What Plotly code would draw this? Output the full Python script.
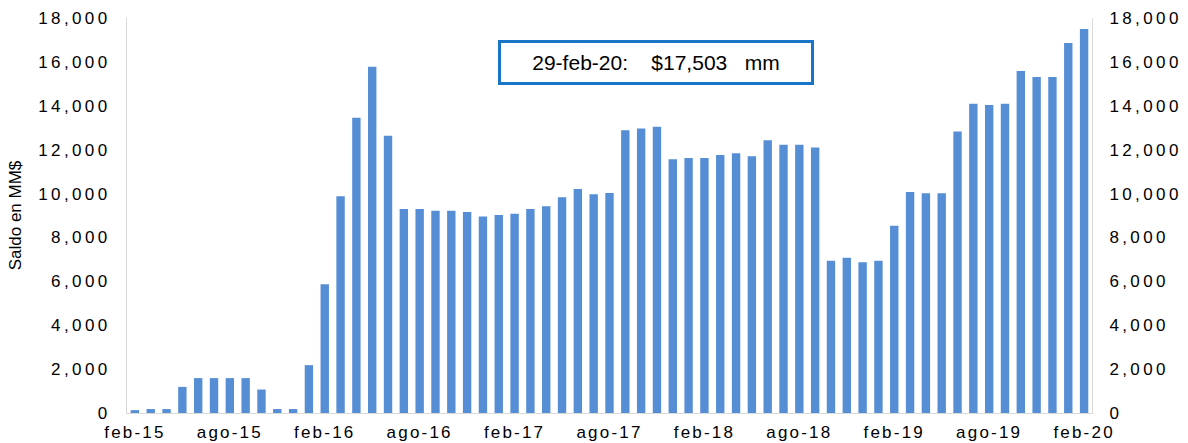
import plotly.graph_objects as go

MESES = ["ene", "feb", "mar", "abr", "may", "jun", "jul", "ago", "sep", "oct", "nov", "dic"]

# Monthly categories feb-15 .. feb-20
months = []
for yy in range(15, 21):
    for mi, m in enumerate(MESES):
        if (yy == 15 and mi < 1) or (yy == 20 and mi > 1):
            continue
        months.append(f"{m}-{yy}")

saldo = [
    130, 180, 180, 1190, 1590, 1590, 1590, 1590, 1070, 180, 180, 2180,      # feb-15 .. ene-16
    5870, 9880, 13450, 15780, 12630, 9300, 9300, 9220, 9220, 9160, 8950, 9020,  # feb-16 .. ene-17
    9080, 9300, 9420, 9830, 10210, 9970, 10030, 12890, 12960, 13040, 11565, 11625,  # feb-17 .. ene-18
    11625, 11760, 11840, 11700, 12430, 12220, 12220, 12100, 6940, 7075, 6865, 6940,  # feb-18 .. ene-19
    8535, 10073, 10013, 10013, 12826, 14090, 14030, 14090, 15580, 15308, 15308, 16860,  # feb-19 .. ene-20
    17503,  # feb-20
]

tick_labels = months[::6]
y_ticks = list(range(0, 18001, 2000))
y_ticktext = [f"{v:,}" for v in y_ticks]
annotation_text = "29-feb-20:&nbsp;&nbsp;&nbsp;&nbsp;$17,503&nbsp;&nbsp;&nbsp;mm"
y_title = "Saldo en MM$"

BAR = "#558ED5"
AXIS = "#D9D9D9"
FONT = "Liberation Sans, Arial, sans-serif"
TICKFONT = dict(family=FONT, size=17, color="black")

fig = go.Figure()
fig.add_trace(go.Bar(x=months, y=saldo, marker=dict(color=BAR, line=dict(width=0)),
                     showlegend=False, hoverinfo="x+y"))
# invisible companion trace so the right-hand (mirror) axis is drawn
fig.add_trace(go.Scatter(x=[months[0]], y=[saldo[0]], yaxis="y2", mode="markers",
                         marker=dict(opacity=0), showlegend=False, hoverinfo="skip"))

fig.update_layout(
    width=1188, height=443,
    margin=dict(l=127, r=96, t=18, b=30),
    paper_bgcolor="white", plot_bgcolor="white",
    bargap=0.47,
    font=dict(family=FONT, size=17, color="black"),
    xaxis=dict(
        type="category", tickmode="array", tickvals=tick_labels, ticktext=tick_labels,
        range=[-0.5, len(months) - 0.5],
        showline=True, linecolor=AXIS, linewidth=1, ticks="", showgrid=False,
        tickfont=TICKFONT, ticklabelstandoff=4, automargin=False,
    ),
    yaxis=dict(
        range=[0, 18000], tickmode="array", tickvals=y_ticks, ticktext=y_ticktext,
        showline=True, linecolor=AXIS, linewidth=1, showgrid=False, zeroline=False,
        ticks="", tickfont=TICKFONT, ticklabelstandoff=12, automargin=False,
        title=dict(text=y_title, font=dict(family=FONT, size=17, color="black"), standoff=32),
    ),
    yaxis2=dict(
        range=[0, 18000], overlaying="y", side="right", tickmode="array",
        tickvals=y_ticks, ticktext=y_ticktext,
        showline=True, linecolor=AXIS, linewidth=1, showgrid=False, zeroline=False,
        ticks="", tickfont=TICKFONT, ticklabelstandoff=13, automargin=False,
    ),
    annotations=[dict(
        text=annotation_text, xref="paper", yref="paper",
        x=0.5487, y=0.8873, xanchor="center", yanchor="middle", showarrow=False,
        font=dict(family=FONT, size=21, color="black"),
        bordercolor="#1B75C6", borderwidth=3, borderpad=0,
        width=310, height=39, bgcolor="white",
    )],
)

post = """
var s=document.createElement('style');
s.innerHTML='body{margin:0!important;padding:0}.xtick text{letter-spacing:2.2px}.ytick text,.y2tick text{letter-spacing:3.4px}';
document.head.appendChild(s);
"""
fig.write_html("out.html", post_script=post, config={"displayModeBar": False})
